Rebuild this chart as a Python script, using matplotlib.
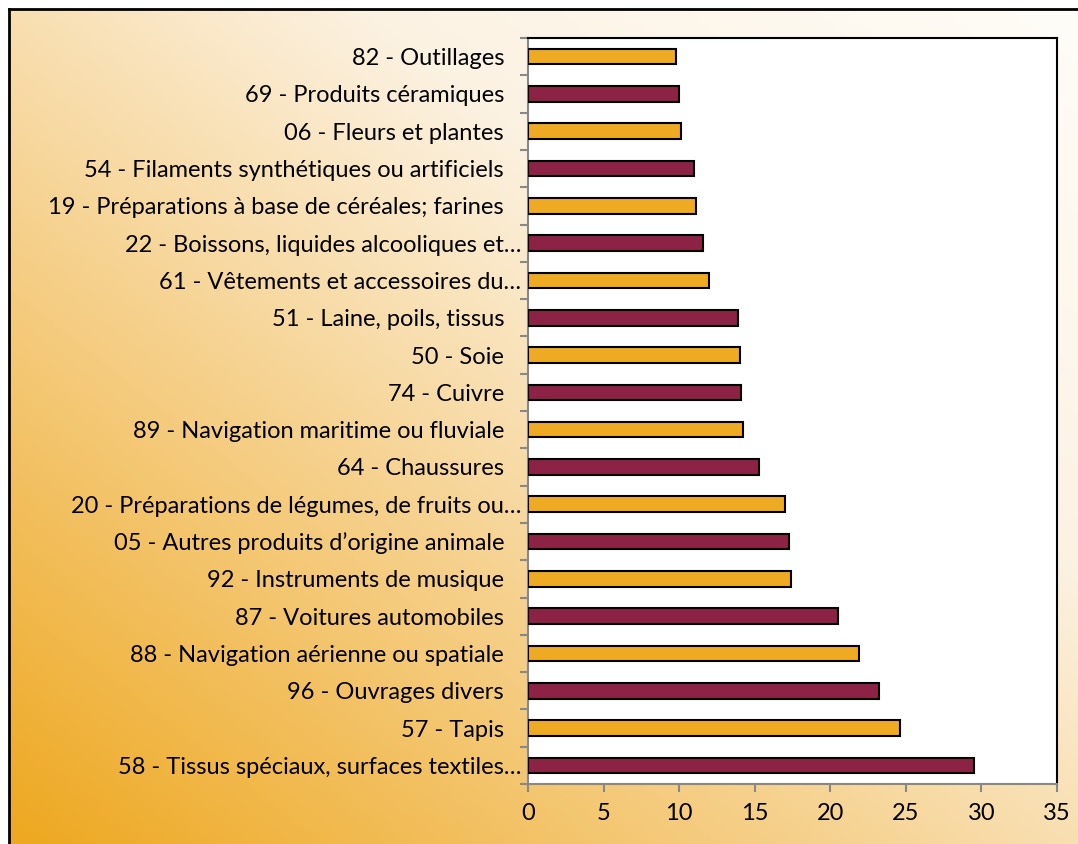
import numpy as np
import matplotlib
matplotlib.use("Agg")
from matplotlib import pyplot as plt
from matplotlib import transforms
from matplotlib.colors import LinearSegmentedColormap

# categories listed from bottom to top
labels = [
    "58 - Tissus spéciaux, surfaces textiles…",
    "57 - Tapis",
    "96 - Ouvrages divers",
    "88 - Navigation aérienne ou spatiale",
    "87 - Voitures automobiles",
    "92 - Instruments de musique",
    "05 - Autres produits d’origine animale",
    "20 - Préparations de légumes, de fruits ou…",
    "64 - Chaussures",
    "89 - Navigation maritime ou fluviale",
    "74 - Cuivre",
    "50 - Soie",
    "51 - Laine, poils, tissus",
    "61 - Vêtements et accessoires du…",
    "22 - Boissons, liquides alcooliques et…",
    "19 - Préparations à base de céréales; farines",
    "54 - Filaments synthétiques ou artificiels",
    "06 - Fleurs et plantes",
    "69 - Produits céramiques",
    "82 - Outillages",
]
values = [29.5, 24.6, 23.2, 21.9, 20.5, 17.4, 17.3, 17.0, 15.3, 14.2,
          14.1, 14.0, 13.9, 12.0, 11.6, 11.1, 11.0, 10.1, 10.0, 9.8]
bar_colors = ["#8C2245", "#EEAA22"]

plt.rcParams['font.family'] = ['Lato', 'DejaVu Sans']

W, H = 1078, 844
fig = plt.figure(figsize=(W / 100, H / 100), dpi=100)
fig.patch.set_facecolor('white')

# background gradient, dark orange bottom-left to cream top-right
bg = fig.add_axes([0, 0, 1, 1])
bg.set_xlim(0, W)
bg.set_ylim(H, 0)
bg.axis('off')
gx, gy = np.meshgrid(np.linspace(0, 1, 300), np.linspace(0, 1, 300))
t = (gx + (1 - gy)) / 2
cmap = LinearSegmentedColormap.from_list(
    'bg', ['#EEA820', '#F5CC80', '#FCF2E2', '#FFFDF8'], N=256)
bg.imshow(t, cmap=cmap, extent=[9, W, H, 9], origin='upper', aspect='auto')
bg.plot([9, W], [9, 9], color='black', lw=2)
bg.plot([9, 9], [9, H], color='black', lw=2)

left, right, top, bottom = 528, 1057, 38, 784
ax = fig.add_axes([left / W, 1 - bottom / H, (right - left) / W, (bottom - top) / H])
ax.set_facecolor('white')

y = np.arange(len(labels))
ax.barh(y, values, height=0.42,
        color=[bar_colors[i % 2] for i in range(len(labels))],
        edgecolor='black', linewidth=1.5, zorder=3)

ax.set_xlim(0, 35)
ax.set_ylim(-0.5, len(labels) - 0.5)
ax.set_xticks(np.arange(0, 36, 5))
ax.set_yticks(y)
ax.set_yticklabels(labels)
ax.set_yticks(np.arange(-0.5, len(labels), 1), minor=True)

ax.tick_params(axis='y', which='major', length=0, pad=5, labelsize=17)
ax.tick_params(axis='y', which='minor', length=6, width=1.5, color='#888888')
ax.tick_params(axis='x', length=6, width=1.5, color='#888888', labelsize=17, pad=8)

# untruncated labels sit a bit further left, like in the original
shift = transforms.ScaledTranslation(-17 / 100, 0, fig.dpi_scale_trans)
for lab in ax.get_yticklabels():
    if not lab.get_text().endswith("…"):
        lab.set_transform(lab.get_transform() + shift)

for side in ['left', 'bottom']:
    ax.spines[side].set_color('#888888')
    ax.spines[side].set_linewidth(1.5)
for side in ['top', 'right']:
    ax.spines[side].set_color('black')
    ax.spines[side].set_linewidth(1.5)

fig.savefig('out.png', dpi=100)
